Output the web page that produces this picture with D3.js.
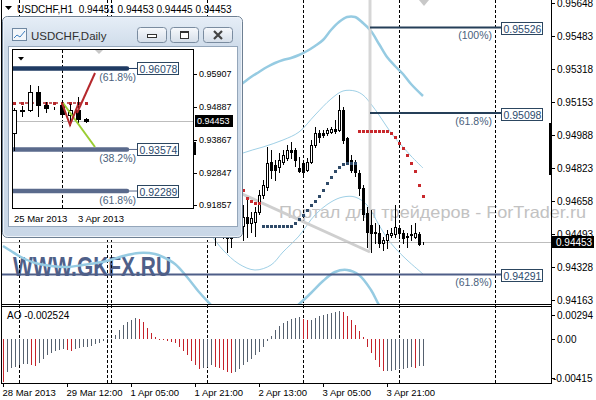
<!DOCTYPE html>
<html>
<head>
<meta charset="utf-8">
<script src="https://cdn.jsdelivr.net/npm/d3@7"></script>
<style>
body{margin:0;background:#fff;}
svg{display:block;font-family:"Liberation Sans",Arial,sans-serif;}
</style>
</head>
<body>
<svg id="chart" width="596" height="400"></svg>
<script>
// ---- H1 data (bars are numbered from the first AO bar, 28 Mar 20:00) ----
var firstBar = 50;
var opens  = [.94588,.94563,.94593,.94553,.94513,.94533,.94493,.94473,.94503,.94523,
              .94533,.94578,.94548,.94553,.94603,.94688,.94728,.94853,.94838,.94828,
              .94853,.94873,.94913,.94913,.94823,.94848,.94813,.94853,.94938,.94998,
              .94998,.94998,.95003,.95018,.95013,.95113,.94973,.94863,.94848,.94798,
              .94723,.94598,.94538,.94503,.94498,.94448,.94463,.94488,.94493,.94523,
              .94498,.94478,.94493,.94478,.94493,.94451];
var highs  = [.94613,.94623,.94613,.94573,.94553,.94553,.94523,.94523,.94543,.94573,
              .94638,.94678,.94603,.94628,.94713,.94763,.94928,.94913,.94863,.94898,
              .94913,.94938,.94953,.94923,.94878,.94863,.94873,.94963,.95028,.95013,
              .95013,.95023,.95028,.95063,.95188,.95128,.94978,.94888,.94863,.94813,
              .94738,.94628,.94613,.94548,.94538,.94478,.94513,.94523,.94638,.94533,
              .94513,.94498,.94538,.94548,.94503,.94453];
var lows   = [.94533,.94543,.94513,.94438,.94483,.94473,.94403,.94428,.94483,.94493,
              .94463,.94478,.94503,.94483,.94593,.94673,.94713,.94773,.94763,.94803,
              .94843,.94863,.94873,.94833,.94803,.94788,.94808,.94848,.94928,.94953,
              .94978,.94988,.94998,.94998,.95008,.94948,.94843,.94803,.94783,.94688,
              .94563,.94428,.94403,.94448,.94428,.94413,.94423,.94478,.94478,.94473,
              .94448,.94428,.94463,.94473,.94438,.94445];
var closes = [.94563,.94593,.94553,.94513,.94533,.94493,.94473,.94503,.94523,.94543,
              .94578,.94548,.94573,.94603,.94688,.94738,.94848,.94813,.94813,.94863,
              .94888,.94913,.94903,.94863,.94808,.94803,.94853,.94938,.94998,.94978,
              .94988,.95013,.95018,.95008,.95113,.94963,.94853,.94813,.94803,.94723,
              .94593,.94503,.94498,.94498,.94448,.94463,.94493,.94498,.94528,.94498,
              .94473,.94483,.94488,.94498,.94443,.94453];

var aoValues = [-0.00405,-0.00309,-0.00277,-0.00261,-0.00249,-0.00239,-0.00233,-0.00242,-0.00252,-0.00229,
  -0.00185,-0.00153,-0.00134,-0.00112,-0.00102,-0.00096,-0.00102,-0.00108,-0.00096,-0.00086,
  -0.00076,-0.00070,-0.00061,-0.00048,-0.00035,-0.00022,-0.00013,0.00003,0.00041,0.00086,
  0.00131,0.00163,0.00185,0.00201,0.00194,0.00163,0.00108,0.00057,0.00022,-0.00003,
  -0.00013,-0.00019,-0.00025,-0.00038,-0.00070,-0.00108,-0.00153,-0.00204,-0.00249,-0.00280,
  -0.00274,-0.00261,-0.00249,-0.00261,-0.00277,-0.00293,-0.00309,-0.00322,-0.00309,-0.00280,
  -0.00249,-0.00217,-0.00185,-0.00153,-0.00118,-0.00076,-0.00022,0.00032,0.00083,0.00121,
  0.00150,0.00172,0.00188,0.00198,0.00207,0.00191,0.00178,0.00185,0.00201,0.00217,
  0.00229,0.00242,0.00249,0.00255,0.00261,0.00252,0.00217,0.00178,0.00134,0.00073,
  0.00019,-0.00070,-0.00134,-0.00198,-0.00261,-0.00306,-0.00303,-0.00300,-0.00293,-0.00287,
  -0.00280,-0.00271,-0.00261,-0.00271,-0.00258,-0.002524];

var sarUpBars = d3.range(65, 89);
var sarUpValues = [.94533,.94533,.94533,.94533,.94533,.94533,.94533,.94533,.94548,.94568,
                   .94588,.94613,.94638,.94658,.94683,.94713,.94748,.94778,.94808,.94828,
                   .94843,.94848,.94848,.94848];
var sarDownBars = [60,61,62,63,64,89,90,91,92,93,94,95,96,97,98,99,100,101,102,103,104,105];
var sarDownValues = [.94713,.94673,.94658,.94648,.94648,.95008,.95008,.95008,.95008,.95008,
                     .95008,.95008,.95008,.94998,.94978,.94948,.94923,.94888,.94848,.94808,
                     .94738,.94683];

var bandOuterUpper = [[56,.95188],[60,.95248],[62,.95278],[64,.95303],[66,.95328],[68,.95348],[70,.95363],
  [72,.95373],[74,.95388],[76,.95408],[78,.95433],[80,.95463],[82,.95513],[84,.95553],[86,.95578],
  [88,.95578],[90,.95548],[92,.95508],[94,.95443],[96,.95378],[98,.95333],[100,.95293],[102,.95243],[105,.95183]];
var bandOuterLower = [[0,.94433],[2,.94408],[4,.94383],[8,.94348],[12,.94333],[16,.94328],[20,.94338],
  [26,.94358],[30,.94383],[34,.94398],[38,.94393],[40,.94378],[43,.94343],[46,.94278],[49,.94203],
  [52,.94138],[56,.94053],[62,.93973],[68,.94013],[72,.94103],[77,.94198],[80,.94258],[83,.94303],
  [86,.94313],[89,.94288],[92,.94213],[94,.94138],[98,.94013]];
var bandInnerUpper = [[56,.94858],[60,.94898],[65,.94928],[70,.94963],[74,.95003],[78,.95088],[82,.95168],
  [85,.95208],[88,.95208],[90,.95188],[92,.95143],[94,.95088],[96,.95028],[98,.94973],[100,.94928],
  [102,.94883],[105,.94823]];
var bandInnerLower = [[50,.94538],[52,.94488],[55,.94413],[59,.94343],[63,.94313],[67,.94338],[70,.94403],
  [74,.94483],[78,.94588],[82,.94653],[85,.94678],[88,.94678],[91,.94638],[94,.94538],[96,.94473],
  [98,.94423],[101,.94363],[105,.94293]];

var trendLine = [[59.25,.94698],[91.75,.94403]];
var vLineBar = 91.75, vLineLow = .94413;

var fibPrices = [0.95526, 0.95098, 0.94291];
var fibLabels = ['(100%)', '(61.8%)', '(61.8%)'];
var fibStartBars = [91.75, 91.75, -0.25];

var dayStarts = [4, 26, 27, 51, 75, 99, 123];
var timeTickBars = [0, 16, 32, 48, 64, 80, 96];
var timeTickLabels = ['28 Mar 2013','29 Mar 12:00','1 Apr 05:00','1 Apr 21:00','2 Apr 13:00','3 Apr 05:00','3 Apr 21:00'];
var priceTicks = [0.95648,0.95483,0.95318,0.95153,0.94988,0.94823,0.94658,0.94493,0.94328,0.94163];
var aoTicks = [0.00294, 0, -0.00415];
var aoTickLabels = ['0.00294', '0.00', '-0.00415'];
var lastPrice = 0.94453;
var headerText = 'USDCHF,H1  0.94451 0.94453 0.94445 0.94453';
var aoText = 'AO -0.002524';

// ---- Daily inset data ----
var dailyOpens  = [.94084,.94764,.94795,.95351,.94949,.94856,.94949,.94640,.94808,.94523];
var dailyHighs  = [.94856,.94918,.95567,.95536,.95042,.94887,.95042,.94980,.95196,.94548];
var dailyLows   = [.93559,.94609,.94764,.94609,.94733,.94825,.94640,.94331,.94424,.94428];
var dailyCloses = [.94795,.94795,.95351,.94949,.94856,.94856,.94671,.94808,.94528,.94453];
var dailyTicks = [0.95907, 0.94887, 0.93867, 0.92847, 0.91857];
var dailyFibPrices = [0.96078, 0.93574, 0.92289];
var dailyFibLabels = ['(61.8%)', '(38.2%)', '(61.8%)'];
var dailyFibColors = ['#1f3b63', '#5a6a8c', '#5a6a8c'];
var dailyDateBars = [0, 8];
var dailyDateLabels = ['25 Mar 2013', '3 Apr 2013'];
var dailySeparator = 6;
var dailyRedLevel = 0.95011;
var dailyZigzag = [[6,.95011],[7,.94331],[8,.94949]];
var dailyRedLine = [[7.875,.94702],[10.125,.95938]];
var dailyGreenLine = [[6.125,.95011],[10.125,.93651]];

// ---- scales ----
var x = d3.scaleLinear().domain([0, 137]).range([3, 551]);
var y = d3.scaleLinear().domain([0.94163, 0.95648]).range([300, 3]);
var yAo = d3.scaleLinear().domain([-0.00415, 0.00294]).range([383, 308]);

var svg = d3.select('#chart');
var defs = svg.append('defs');
defs.append('clipPath').attr('id', 'mainClip')
    .append('rect').attr('x', 2).attr('y', 0).attr('width', 549).attr('height', 304);

svg.append('rect').attr('width', 596).attr('height', 400).attr('fill', '#fff');

// watermarks
svg.append('text')
    .attr('x', 279).attr('y', 217.5)
    .attr('font-size', '16.5px')
    .attr('fill', '#c2c2c2')
    .attr('textLength', 307).attr('lengthAdjust', 'spacingAndGlyphs')
    .text('Портал для трейдеров - ForTrader.ru');
svg.append('text')
    .attr('x', 13).attr('y', 275.5)
    .attr('font-size', '28px').attr('font-weight', 'bold')
    .attr('fill', '#4f6089')
    .attr('textLength', 158).attr('lengthAdjust', 'spacingAndGlyphs')
    .text('WWW.GKFX.RU');

// period separators
svg.append('g').selectAll('line')
    .data(dayStarts).enter().append('line')
    .attr('x1', d => Math.round(x(d)) + 0.5).attr('x2', d => Math.round(x(d)) + 0.5)
    .attr('y1', 0).attr('y2', 383)
    .attr('stroke', '#000').attr('stroke-dasharray', '3,2');

var main = svg.append('g').attr('clip-path', 'url(#mainClip)');
var band = d3.line().x(d => x(d[0])).y(d => y(d[1])).curve(d3.curveCatmullRom);

[[bandOuterUpper, 2.5, '#96cbe2'], [bandOuterLower, 2.5, '#96cbe2'],
 [bandInnerUpper, 1, '#9fd0e6'], [bandInnerLower, 1, '#9fd0e6']].forEach(function(b){
    main.append('path').attr('d', band(b[0]))
        .attr('fill', 'none').attr('stroke', b[2]).attr('stroke-width', b[1]);
});

// grey objects
main.append('line')
    .attr('x1', x(trendLine[0][0])).attr('y1', y(trendLine[0][1]))
    .attr('x2', x(trendLine[1][0])).attr('y2', y(trendLine[1][1]))
    .attr('stroke', '#cfcfcf').attr('stroke-width', 3);
main.append('line')
    .attr('x1', x(vLineBar)).attr('x2', x(vLineBar))
    .attr('y1', 0).attr('y2', y(vLineLow))
    .attr('stroke', '#d6d6d6').attr('stroke-width', 3);

// last price line
main.append('line')
    .attr('x1', 2).attr('x2', 551)
    .attr('y1', Math.round(y(lastPrice)) + 0.5).attr('y2', Math.round(y(lastPrice)) + 0.5)
    .attr('stroke', '#bdbdbd');

// fibo levels
var fibColors = ['#253f58', '#253f58', '#4e5e88'];
fibPrices.forEach(function(p, i){
    var ly = y(p);
    main.append('line')
        .attr('x1', x(fibStartBars[i])).attr('x2', 502)
        .attr('y1', ly).attr('y2', ly)
        .attr('stroke', fibColors[i]).attr('stroke-width', 2);
    main.append('text')
        .attr('x', 492).attr('y', ly + 12).attr('text-anchor', 'end')
        .attr('font-size', '10.5px').attr('fill', '#4a5f7c')
        .text(fibLabels[i]);
    main.append('rect')
        .attr('x', 501.5).attr('y', Math.round(ly - 5) + 0.5)
        .attr('width', 41).attr('height', 12)
        .attr('fill', '#fff').attr('stroke', '#2c4660');
    main.append('text')
        .attr('x', 503.5).attr('y', Math.round(ly - 5) + 10.5)
        .attr('font-size', '10.5px').attr('fill', '#2c4a6e')
        .text(p.toFixed(5));
});

// candles
var candles = opens.map(function(o, i){
    return {n: firstBar + i, o: o, h: highs[i], l: lows[i], c: closes[i]};
});
var cg = main.append('g').selectAll('g').data(candles).enter().append('g');
cg.append('line')
    .attr('x1', d => Math.round(x(d.n)) + 0.5).attr('x2', d => Math.round(x(d.n)) + 0.5)
    .attr('y1', d => Math.round(y(d.h))).attr('y2', d => Math.round(y(d.l)) + 1)
    .attr('stroke', '#000');
cg.append('rect')
    .attr('x', d => Math.round(x(d.n)) - 0.5)
    .attr('y', d => Math.round(y(Math.max(d.o, d.c))) + 0.5)
    .attr('width', 2)
    .attr('height', d => Math.max(0, Math.round(y(Math.min(d.o, d.c))) - Math.round(y(Math.max(d.o, d.c)))))
    .attr('fill', d => d.c > d.o ? '#fff' : '#000')
    .attr('stroke', '#000');

// parabolic SAR
main.append('g').selectAll('rect').data(sarUpBars).enter().append('rect')
    .attr('x', d => Math.round(x(d)) - 1).attr('y', (d, i) => Math.round(y(sarUpValues[i])) - 1)
    .attr('width', 3).attr('height', 3).attr('fill', '#2f4a68');
main.append('g').selectAll('rect').data(sarDownBars).enter().append('rect')
    .attr('x', d => Math.round(x(d)) - 1).attr('y', (d, i) => Math.round(y(sarDownValues[i])) - 1)
    .attr('width', 3).attr('height', 3).attr('fill', '#c8282c');

// shift marker
svg.append('path').attr('d', 'M419,0 L429,0 L424,6 Z').attr('fill', '#c8c8c8');

// AO histogram: grey when the value rises, red when it falls
var aoZero = Math.round(yAo(0));
svg.append('g').selectAll('rect').data(aoValues).enter().append('rect')
    .attr('x', (d, i) => Math.round(x(i)))
    .attr('y', d => Math.min(aoZero, Math.round(yAo(d))))
    .attr('width', 1)
    .attr('height', d => Math.max(1, Math.abs(Math.round(yAo(d)) - aoZero)))
    .attr('fill', (d, i) => (i > 0 && d > aoValues[i - 1]) ? '#56616f' : '#c4222a');

// pane frames
svg.append('line').attr('x1', 1.5).attr('x2', 1.5).attr('y1', 0).attr('y2', 384).attr('stroke', '#000');
svg.append('line').attr('x1', 551.5).attr('x2', 551.5).attr('y1', 0).attr('y2', 384).attr('stroke', '#000');
[304.5, 306.5, 383.5].forEach(function(v){
    svg.append('line').attr('x1', 1.5).attr('x2', 551.5).attr('y1', v).attr('y2', v).attr('stroke', '#000');
});

// price axis
var pa = svg.append('g').selectAll('g').data(priceTicks).enter().append('g');
pa.append('line').attr('x1', 551).attr('x2', 555)
    .attr('y1', d => Math.round(y(d)) + 0.5).attr('y2', d => Math.round(y(d)) + 0.5).attr('stroke', '#000');
pa.append('text').attr('x', 557).attr('y', d => y(d) + 3.5)
    .attr('font-size', '10px').attr('fill', '#000').text(d => d.toFixed(5));
svg.append('rect').attr('x', 549).attr('y', 123).attr('width', 3).attr('height', 52).attr('fill', '#000');
svg.append('rect').attr('x', 552).attr('y', Math.round(y(lastPrice)) - 6).attr('width', 42).attr('height', 12).attr('fill', '#000');
svg.append('text').attr('x', 556).attr('y', y(lastPrice) + 3.5)
    .attr('font-size', '10px').attr('fill', '#fff').text(lastPrice.toFixed(5));

// AO axis
var aoOffsets = [7, 0, -5];
aoTicks.forEach(function(v, i){
    var ty = yAo(v) + aoOffsets[i];
    svg.append('line').attr('x1', 551).attr('x2', 555)
        .attr('y1', Math.round(ty) + 0.5).attr('y2', Math.round(ty) + 0.5).attr('stroke', '#000');
    svg.append('text').attr('x', v < 0 ? 553 : 557).attr('y', ty + 3.5)
        .attr('font-size', '10px').attr('fill', '#000').text(aoTickLabels[i]);
});

// time axis
timeTickBars.forEach(function(b, i){
    var tx = Math.round(x(b)) + 0.5;
    svg.append('line').attr('x1', tx).attr('x2', tx).attr('y1', 384).attr('y2', 387).attr('stroke', '#000');
    svg.append('text').attr('x', tx - 1).attr('y', 396)
        .attr('font-size', '9.5px').attr('fill', '#000').text(timeTickLabels[i]);
});

// header texts
svg.append('path').attr('d', 'M5,6 L12,6 L8.5,10 Z').attr('fill', '#000');
svg.append('text').attr('x', 17).attr('y', 12.5).attr('font-size', '10px').attr('fill', '#000')
    .attr('xml:space', 'preserve').text(headerText);
svg.append('text').attr('x', 7).attr('y', 319).attr('font-size', '10px').attr('fill', '#000').text(aoText);

// ---- Daily inset window ----
var grad = defs.append('linearGradient').attr('id', 'frameGrad').attr('x1', 0).attr('x2', 0).attr('y1', 0).attr('y2', 1);
grad.append('stop').attr('offset', '0%').attr('stop-color', '#e6eef7');
grad.append('stop').attr('offset', '14%').attr('stop-color', '#cfdcea');
grad.append('stop').attr('offset', '100%').attr('stop-color', '#c9d7e7');
var bgrad = defs.append('linearGradient').attr('id', 'btnGrad').attr('x1', 0).attr('x2', 0).attr('y1', 0).attr('y2', 1);
bgrad.append('stop').attr('offset', '0%').attr('stop-color', '#f7f9fc');
bgrad.append('stop').attr('offset', '100%').attr('stop-color', '#d5dee9');
defs.append('clipPath').attr('id', 'insetClip')
    .append('rect').attr('x', 13).attr('y', 50).attr('width', 180).attr('height', 158);

var win = svg.append('g');
win.append('rect').attr('x', 2.5).attr('y', 16.5).attr('width', 240).attr('height', 221).attr('rx', 5)
    .attr('fill', 'url(#frameGrad)').attr('stroke', '#6d7f92');
win.append('rect').attr('x', 3.5).attr('y', 17.5).attr('width', 238).attr('height', 219).attr('rx', 4)
    .attr('fill', 'none').attr('stroke', '#eef3f9');
win.append('rect').attr('x', 8.5).attr('y', 46.5).attr('width', 229).attr('height', 180)
    .attr('fill', '#fff').attr('stroke', '#94a6ba');

// title bar
win.append('rect').attr('x', 12.5).attr('y', 28.5).attr('width', 14).attr('height', 12)
    .attr('fill', '#f2f6fa').attr('stroke', '#6f88a2');
win.append('polyline').attr('points', '14,38 17,35 20,37 25,31')
    .attr('fill', 'none').attr('stroke', '#3d7fc0');
win.append('text').attr('x', 31).attr('y', 40).attr('font-size', '11.5px').attr('fill', '#303030').text('USDCHF,Daily');
[[137.5, 29], [170.5, 28], [203.5, 29]].forEach(function(b){
    win.append('rect').attr('x', b[0]).attr('y', 27.5).attr('width', b[1]).attr('height', 15).attr('rx', 3)
        .attr('fill', 'url(#btnGrad)').attr('stroke', '#7a8ca0');
});
win.append('rect').attr('x', 147.5).attr('y', 34.5).attr('width', 9).attr('height', 3).attr('fill', '#fff').attr('stroke', '#333');
win.append('rect').attr('x', 180.5).attr('y', 31.5).attr('width', 8).attr('height', 7).attr('fill', '#fff').attr('stroke', '#333');
win.append('line').attr('x1', 180.5).attr('x2', 188.5).attr('y1', 32.5).attr('y2', 32.5).attr('stroke', '#333');
win.append('path').attr('d', 'M214,31 L222,39 M222,31 L214,39').attr('stroke', '#444').attr('stroke-width', 2.2);

// inset chart
var xIn = d3.scaleLinear().domain([0, 9]).range([14, 86]);
var yIn = d3.scaleLinear().domain([0.91857, 0.95907]).range([205, 74]);

win.append('rect').attr('x', 12.5).attr('y', 49.5).attr('width', 181).attr('height', 159)
    .attr('fill', '#fff').attr('stroke', '#000');
var ins = win.append('g').attr('clip-path', 'url(#insetClip)');

ins.append('line').attr('x1', Math.round(xIn(dailySeparator)) + 0.5).attr('x2', Math.round(xIn(dailySeparator)) + 0.5)
    .attr('y1', 50).attr('y2', 208).attr('stroke', '#000').attr('stroke-dasharray', '3,2');
ins.append('line').attr('x1', 13).attr('x2', 193)
    .attr('y1', Math.round(yIn(lastPrice)) + 0.5).attr('y2', Math.round(yIn(lastPrice)) + 0.5).attr('stroke', '#bdbdbd');

// fibo levels on daily
dailyFibPrices.forEach(function(p, i){
    var ly = yIn(p);
    ins.append('line').attr('x1', 13).attr('x2', 127).attr('y1', ly).attr('y2', ly)
        .attr('stroke', dailyFibColors[i]).attr('stroke-width', 4.5).attr('stroke-linecap', 'round');
    ins.append('line').attr('x1', 127).attr('x2', 137).attr('y1', ly).attr('y2', ly)
        .attr('stroke', dailyFibColors[i]);
    ins.append('text').attr('x', 136).attr('y', ly + 12.5).attr('text-anchor', 'end')
        .attr('font-size', '10.5px').attr('fill', '#4a5f7c').text(dailyFibLabels[i]);
    ins.append('rect').attr('x', 137.5).attr('y', Math.round(ly - 6) + 0.5).attr('width', 41).attr('height', 12)
        .attr('fill', '#fff').attr('stroke', '#2c4660');
    ins.append('text').attr('x', 139.5).attr('y', Math.round(ly - 6) + 11)
        .attr('font-size', '10.5px').attr('fill', '#2c4a6e').text(p.toFixed(5));
});

// red dotted level
ins.append('line').attr('x1', 13).attr('x2', 88).attr('y1', yIn(dailyRedLevel)).attr('y2', yIn(dailyRedLevel))
    .attr('stroke', '#b5282c').attr('stroke-width', 1.5).attr('stroke-dasharray', '3,3');
ins.append('g').selectAll('rect').data(dailyOpens).enter().append('rect')
    .attr('x', (d, i) => Math.round(xIn(i)) - 1).attr('y', Math.round(yIn(dailyRedLevel)) - 1)
    .attr('width', 3).attr('height', 3).attr('fill', '#b5282c');

// daily candles
var dc = ins.append('g').selectAll('g').data(dailyOpens).enter().append('g');
dc.append('line')
    .attr('x1', (d, i) => Math.round(xIn(i)) + 0.5).attr('x2', (d, i) => Math.round(xIn(i)) + 0.5)
    .attr('y1', (d, i) => Math.round(yIn(dailyHighs[i]))).attr('y2', (d, i) => Math.round(yIn(dailyLows[i])) + 1)
    .attr('stroke', '#000');
dc.append('rect')
    .attr('x', (d, i) => Math.round(xIn(i)) - 1.5)
    .attr('y', (d, i) => Math.round(yIn(Math.max(d, dailyCloses[i]))) + 0.5)
    .attr('width', 4)
    .attr('height', (d, i) => Math.max(0, Math.round(yIn(Math.min(d, dailyCloses[i]))) - Math.round(yIn(Math.max(d, dailyCloses[i])))))
    .attr('fill', (d, i) => dailyCloses[i] > d ? '#fff' : '#000')
    .attr('stroke', '#000');

var dl = d3.line().x(d => xIn(d[0])).y(d => yIn(d[1]));
ins.append('path').attr('d', dl(dailyGreenLine)).attr('fill', 'none').attr('stroke', '#9acd32').attr('stroke-width', 2);
ins.append('path').attr('d', dl(dailyZigzag)).attr('fill', 'none').attr('stroke', '#b5282c').attr('stroke-width', 2);
ins.append('path').attr('d', dl(dailyRedLine)).attr('fill', 'none').attr('stroke', '#b5282c').attr('stroke-width', 2);

ins.append('path').attr('d', 'M18,57 L24,57 L21,60.5 Z').attr('fill', '#000');
ins.append('path').attr('d', 'M95,50 L103,50 L99,54 Z').attr('fill', '#c8c8c8');

// daily axes
dailyTicks.forEach(function(p){
    var ty = Math.round(yIn(p)) + 0.5;
    win.append('line').attr('x1', 193).attr('x2', 197).attr('y1', ty).attr('y2', ty).attr('stroke', '#000');
    win.append('text').attr('x', 199).attr('y', yIn(p) + 3.2).attr('font-size', '9px').attr('fill', '#000').text(p.toFixed(5));
});
win.append('rect').attr('x', 193).attr('y', 142).attr('width', 3).attr('height', 13).attr('fill', '#000');
win.append('rect').attr('x', 195).attr('y', Math.round(yIn(lastPrice)) - 6).attr('width', 38).attr('height', 12).attr('fill', '#000');
win.append('text').attr('x', 197).attr('y', yIn(lastPrice) + 3.2).attr('font-size', '9px').attr('fill', '#fff').text(lastPrice.toFixed(5));
dailyDateBars.forEach(function(b, i){
    win.append('text').attr('x', xIn(b)).attr('y', 222).attr('font-size', '9.5px').attr('fill', '#000').text(dailyDateLabels[i]);
});
</script>
</body>
</html>
